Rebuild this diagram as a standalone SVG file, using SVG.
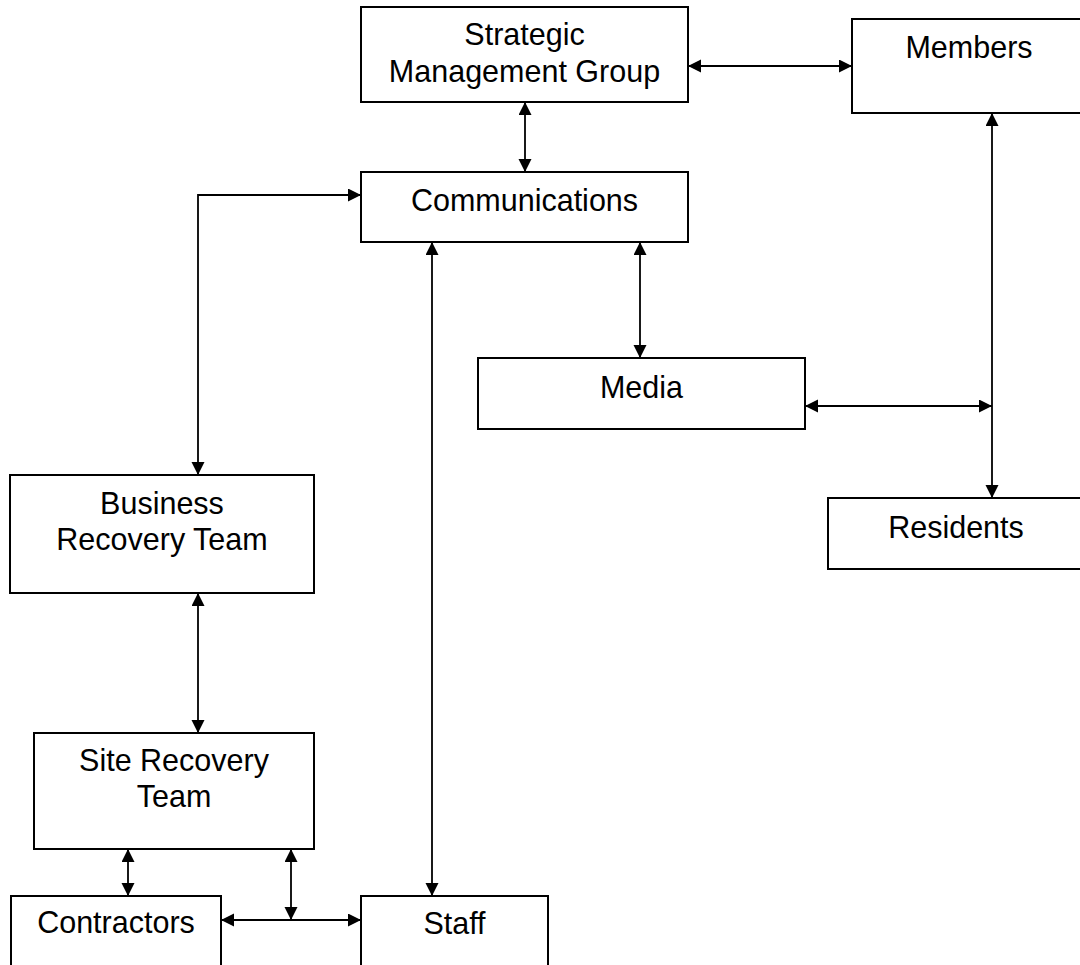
<svg xmlns="http://www.w3.org/2000/svg" width="1080" height="965" viewBox="0 0 1080 965">
<style>
.box{fill:#fff;stroke:#000;stroke-width:2}
.lbl{font-family:"Liberation Sans",Arial,sans-serif;font-size:30.5px;fill:#000;text-anchor:middle}
.con{fill:none;stroke:#000;stroke-width:1.8;marker-start:url(#ah);marker-end:url(#ah)}
</style>
<defs>
<marker id="ah" markerUnits="userSpaceOnUse" markerWidth="14" markerHeight="14" refX="13" refY="6.5" orient="auto-start-reverse">
<path d="M0,0 L13,6.5 L0,13 z" fill="#000"/>
</marker>
</defs>
<rect width="1080" height="965" fill="#fff"/>
<g id="connectors">
<path class="con" d="M688,66 H852"/>
<path class="con" d="M525,102 V172"/>
<path class="con" d="M361,195 H198 V475"/>
<path class="con" d="M432,242 V896"/>
<path class="con" d="M640,242 V358"/>
<path class="con" d="M992,113 V498"/>
<path class="con" d="M805,406 H992"/>
<path class="con" d="M198,593 V733"/>
<path class="con" d="M128,849 V896"/>
<path class="con" d="M291,849 V920"/>
<path class="con" d="M221,920 H361"/>
</g>
<g id="smg"><rect class="box" x="361" y="7" width="327" height="95"/><text class="lbl" x="524.5" y="45">Strategic</text><text class="lbl" x="524.5" y="82">Management Group</text></g>
<g id="members"><rect class="box" x="852" y="19" width="234" height="94"/><text class="lbl" x="969" y="58">Members</text></g>
<g id="communications"><rect class="box" x="361" y="172" width="327" height="70"/><text class="lbl" x="524.5" y="211">Communications</text></g>
<g id="media"><rect class="box" x="478" y="358" width="327" height="71"/><text class="lbl" x="641.5" y="398">Media</text></g>
<g id="residents"><rect class="box" x="828" y="498" width="256" height="71"/><text class="lbl" x="956" y="538">Residents</text></g>
<g id="brt"><rect class="box" x="10" y="475" width="304" height="118"/><text class="lbl" x="162" y="514">Business</text><text class="lbl" x="162" y="550">Recovery Team</text></g>
<g id="srt"><rect class="box" x="34" y="733" width="280" height="116"/><text class="lbl" x="174" y="771">Site Recovery</text><text class="lbl" x="174" y="807">Team</text></g>
<g id="contractors"><rect class="box" x="11" y="896" width="210" height="80"/><text class="lbl" x="116" y="933">Contractors</text></g>
<g id="staff"><rect class="box" x="361" y="896" width="187" height="80"/><text class="lbl" x="454.5" y="934">Staff</text></g>
</svg>
